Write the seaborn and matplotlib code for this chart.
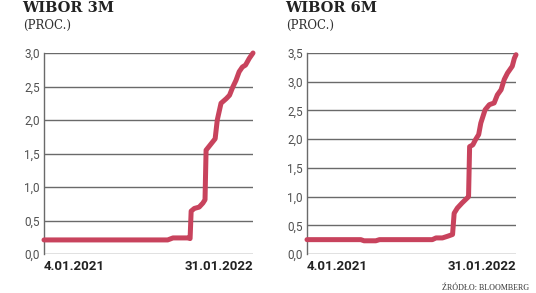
import matplotlib
matplotlib.use("Agg")
import matplotlib.pyplot as plt
import seaborn as sns
import pandas as pd
import numpy as np

# ---- data ----
dates_3m = ["2021-01-04", "2021-08-24", "2021-09-03", "2021-10-01", "2021-10-05",
            "2021-10-07", "2021-10-13", "2021-10-22", "2021-10-29", "2021-11-02",
            "2021-11-04", "2021-11-12", "2021-11-21", "2021-11-25", "2021-12-02",
            "2021-12-12", "2021-12-18", "2021-12-24", "2021-12-30", "2022-01-05",
            "2022-01-11", "2022-01-17", "2022-01-24", "2022-01-31"]
wibor_3m = [0.21, 0.21, 0.24, 0.24, 0.23,
            0.64, 0.68, 0.70, 0.76, 0.81,
            1.55, 1.63, 1.72, 2.00, 2.25,
            2.32, 2.37, 2.49, 2.59, 2.72,
            2.79, 2.82, 2.92, 3.00]

dates_6m = ["2021-01-04", "2021-04-15", "2021-04-21", "2021-05-13", "2021-05-20",
            "2021-08-27", "2021-09-03", "2021-09-15", "2021-09-25", "2021-10-04",
            "2021-10-07", "2021-10-13", "2021-10-22", "2021-11-01", "2021-11-03",
            "2021-11-05", "2021-11-11", "2021-11-16", "2021-11-22", "2021-11-26",
            "2021-12-04", "2021-12-12", "2021-12-21", "2021-12-27", "2022-01-03",
            "2022-01-09", "2022-01-15", "2022-01-24", "2022-01-28", "2022-01-31"]
wibor_6m = [0.25, 0.25, 0.23, 0.23, 0.25,
            0.25, 0.28, 0.28, 0.31, 0.34,
            0.71, 0.80, 0.89, 0.98, 1.00,
            1.87, 1.90, 1.99, 2.08, 2.28,
            2.51, 2.60, 2.63, 2.77, 2.86,
            3.04, 3.15, 3.27, 3.41, 3.47]

titles = ["WIBOR 3M", "WIBOR 6M"]
unit_label = "(PROC.)"
x_labels = ["4.01.2021", "31.01.2022"]
yticks_3m = [0.0, 0.5, 1.0, 1.5, 2.0, 2.5, 3.0]
yticks_6m = [0.0, 0.5, 1.0, 1.5, 2.0, 2.5, 3.0, 3.5]
source = "ŹRÓDŁO: BLOOMBERG"

# ---- style ----
sns.set_style("white")
plt.rcParams["font.family"] = ["Roboto", "DejaVu Sans"]

LINE = "#c8435d"
GRID = "#6a6a6a"
TXT = "#505050"

W, H = 536, 293
fig = plt.figure(figsize=(W / 100, H / 100), dpi=100)
fig.patch.set_facecolor("white")

def fx(px):
    return px / W

def fy(py):
    return 1 - py / H

panels = [
    dict(dates=dates_3m, vals=wibor_3m, yt=yticks_3m, x0=44, x1=253, tx=22, title=titles[0]),
    dict(dates=dates_6m, vals=wibor_6m, yt=yticks_6m, x0=307, x1=516, tx=285, title=titles[1]),
]
top, bot = 53, 254

for p in panels:
    ax = fig.add_axes([fx(p["x0"]), fy(bot), fx(p["x1"] - p["x0"]), (bot - top) / H])
    df = pd.DataFrame({"date": pd.to_datetime(p["dates"]), "val": p["vals"]})
    for y in p["yt"]:
        ax.axhline(y, color=GRID, lw=1.0, zorder=1)
    sns.lineplot(data=df, x="date", y="val", ax=ax, color=LINE, lw=3.6,
                 solid_capstyle="round", solid_joinstyle="round", zorder=3, clip_on=False)
    ax.set_xlim(df["date"].iloc[0], df["date"].iloc[-1])
    ax.set_ylim(p["yt"][0], p["yt"][-1])
    ax.set_yticks(p["yt"])
    ax.set_yticklabels([f"{v:.1f}".replace(".", ",") for v in p["yt"]],
                       fontsize=8.5, color=TXT)
    ax.set_xticks([df["date"].iloc[0], df["date"].iloc[-1]])
    ax.set_xticklabels(x_labels, fontsize=9.5, fontweight="bold", color="#222222")
    xl = ax.get_xticklabels()
    xl[0].set_horizontalalignment("left")
    xl[1].set_horizontalalignment("right")
    ax.tick_params(axis="x", length=0, pad=4)
    ax.tick_params(axis="y", length=0, pad=3)
    ax.set_xlabel("")
    ax.set_ylabel("")
    for s in ["top", "right", "bottom"]:
        ax.spines[s].set_visible(False)
    ax.spines["left"].set_color(GRID)
    ax.spines["left"].set_linewidth(1.0)
    ax.set_facecolor("none")

    fig.text(fx(p["tx"]), fy(12.5), p["title"], fontsize=10.5, fontweight="bold",
             family=["DejaVu Serif"], color="#222222", va="baseline", ha="left")
    fig.text(fx(p["tx"] + 1), fy(29), unit_label, fontsize=8.5,
             family=["DejaVu Serif"], color="#333333", va="baseline", ha="left")

fig.text(fx(529), fy(290), source, fontsize=5.8, family=["Liberation Serif", "DejaVu Serif"],
         color="#333333", va="baseline", ha="right")

fig.savefig("out.png", dpi=100, facecolor="white")
